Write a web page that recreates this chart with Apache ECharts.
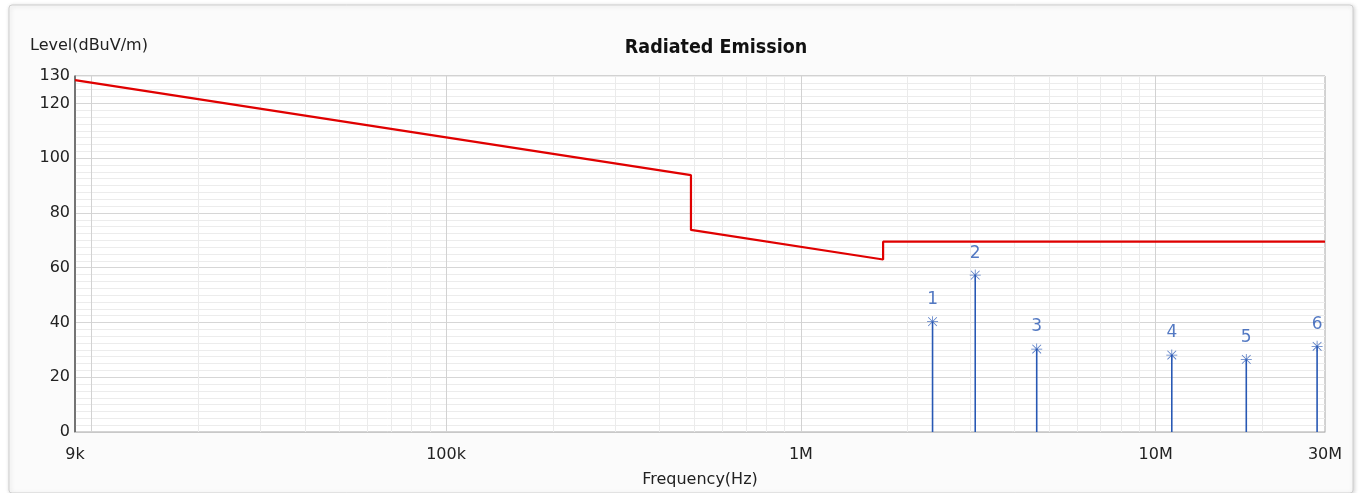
<!DOCTYPE html>
<html>
<head>
<meta charset="utf-8">
<script src="https://cdn.jsdelivr.net/npm/echarts@6/dist/echarts.min.js"></script>
<style>
html,body{margin:0;padding:0;background:#ffffff;}
#chart{width:1360px;height:493px;}
</style>
</head>
<body>
<div id="chart"></div>
<script>
// ---- data ----
const limitFreq = [9000, 490000, 490000, 1705000, 1705000, 30000000];
const limitLevel = [128.5, 93.8, 73.8, 63.0, 69.5, 69.5];

const markerFreq = [2.35e6, 3.10e6, 4.62e6, 11.1e6, 18.0e6, 28.5e6];
const markerLevel = [40.3, 57.3, 30.3, 28.1, 26.5, 31.3];
const markerLabel = ['1', '2', '3', '4', '5', '6'];

const xTickFreq = [9000, 100000, 1000000, 10000000, 30000000];
const xTickLabel = ['9k', '100k', '1M', '10M', '30M'];
const yTickValues = [0, 20, 40, 60, 80, 100, 120, 130];

const xMin = 9000, xMax = 30000000;
const yMin = 0, yMax = 130;

// ---- build ----
const lg = v => Math.log10(v);
const FONT = "'DejaVu Sans', Verdana, sans-serif";

// log grid positions (1..9 x 10^k) within range
const gridVals = [];
const gridColors = [];
for (let k = 3; k <= 7; k++) {
  for (let m = 1; m <= 9; m++) {
    const f = m * Math.pow(10, k);
    if (f > xMin && f < xMax) {
      gridVals.push(lg(f));
      gridColors.push(m === 1 ? '#d2d2d2' : '#ebebeb');
    }
  }
}

const yColors = ['#d6d6d6', '#ececec', '#ececec', '#ececec', '#ececec', '#ececec', '#ececec', '#ececec'];

const limitData = limitFreq.map((f, i) => [lg(f), limitLevel[i]]);
const markerData = markerFreq.map((f, i) => [lg(f), markerLevel[i]]);

const xLabelMap = {};
xTickFreq.forEach((f, i) => { xLabelMap[lg(f).toFixed(6)] = xTickLabel[i]; });

const starPath = 'path://M9.3 0H10.7V20H9.3Z M0 9.3H20V10.7H0Z M2.6 1.6L18.4 17.4L17.4 18.4L1.6 2.6Z M17.4 1.6L18.4 2.6L2.6 18.4L1.6 17.4Z';
const BLUE = '#2858b4';

const chart = echarts.init(document.getElementById('chart'), null, {renderer: 'canvas'});
chart.setOption({
  animation: false,
  backgroundColor: '#ffffff',
  graphic: [
    {
      type: 'rect', z: -10, silent: true,
      shape: {x: 9, y: 5, width: 1344, height: 488, r: 3},
      style: {fill: '#fbfbfb', stroke: '#cfcfcf', lineWidth: 1, shadowColor: 'rgba(0,0,0,0.18)', shadowBlur: 4, shadowOffsetX: 1, shadowOffsetY: 1}
    },
    {
      type: 'text', left: 30, top: 38, silent: true,
      style: {text: 'Level(dBuV/m)', font: '16px ' + FONT, fill: '#222'}
    },
    {
      type: 'text', x: 716, y: 48, silent: true,
      style: {
        text: 'Radiated Emission',
        font: "bold 19.5px 'DejaVu Sans Condensed', 'DejaVu Sans', sans-serif",
        fill: '#111', align: 'center', verticalAlign: 'middle'
      }
    }
  ],
  grid: {
    left: 75, right: 35, top: 76, bottom: 61,
    show: true, backgroundColor: '#ffffff', borderColor: '#a8a8a8', borderWidth: 1,
    containLabel: false,
    outerBoundsMode: 'none'
  },
  xAxis: {
    type: 'value',
    min: lg(xMin), max: lg(xMax),
    name: 'Frequency(Hz)',
    nameLocation: 'middle', nameGap: 40,
    nameTextStyle: {fontFamily: FONT, fontSize: 16, color: '#222'},
    axisLine: {show: true, lineStyle: {color: '#c8c8c8', width: 1}},
    axisTick: {show: false, customValues: gridVals},
    axisLabel: {
      customValues: xTickFreq.map(lg),
      margin: 15,
      fontFamily: FONT, fontSize: 16, color: '#222',
      formatter: v => xLabelMap[Number(v).toFixed(6)] || ''
    },
    splitLine: {show: true, lineStyle: {color: gridColors, width: 1}}
  },
  yAxis: {
    type: 'value',
    min: yMin, max: yMax, interval: 2.5,
    axisLine: {show: true, lineStyle: {color: '#555555', width: 1.5}},
    axisTick: {show: false},
    axisLabel: {
      customValues: yTickValues,
      margin: 5,
      fontFamily: FONT, fontSize: 16, color: '#222'
    },
    splitLine: {show: true, lineStyle: {color: yColors, width: 1}}
  },
  series: [
    {
      type: 'line',
      data: limitData,
      symbol: 'none',
      lineStyle: {color: '#e00000', width: 2.2},
      z: 5
    },
    {
      type: 'bar',
      data: markerData,
      barWidth: 1.6,
      itemStyle: {color: BLUE},
      z: 6
    },
    {
      type: 'scatter',
      data: markerData,
      symbol: starPath,
      symbolSize: 11,
      itemStyle: {color: BLUE},
      label: {
        show: true, position: 'top', distance: 8,
        fontFamily: FONT, fontSize: 17, color: BLUE,
        formatter: p => markerLabel[p.dataIndex]
      },
      z: 7
    }
  ]
});
</script>
</body>
</html>
